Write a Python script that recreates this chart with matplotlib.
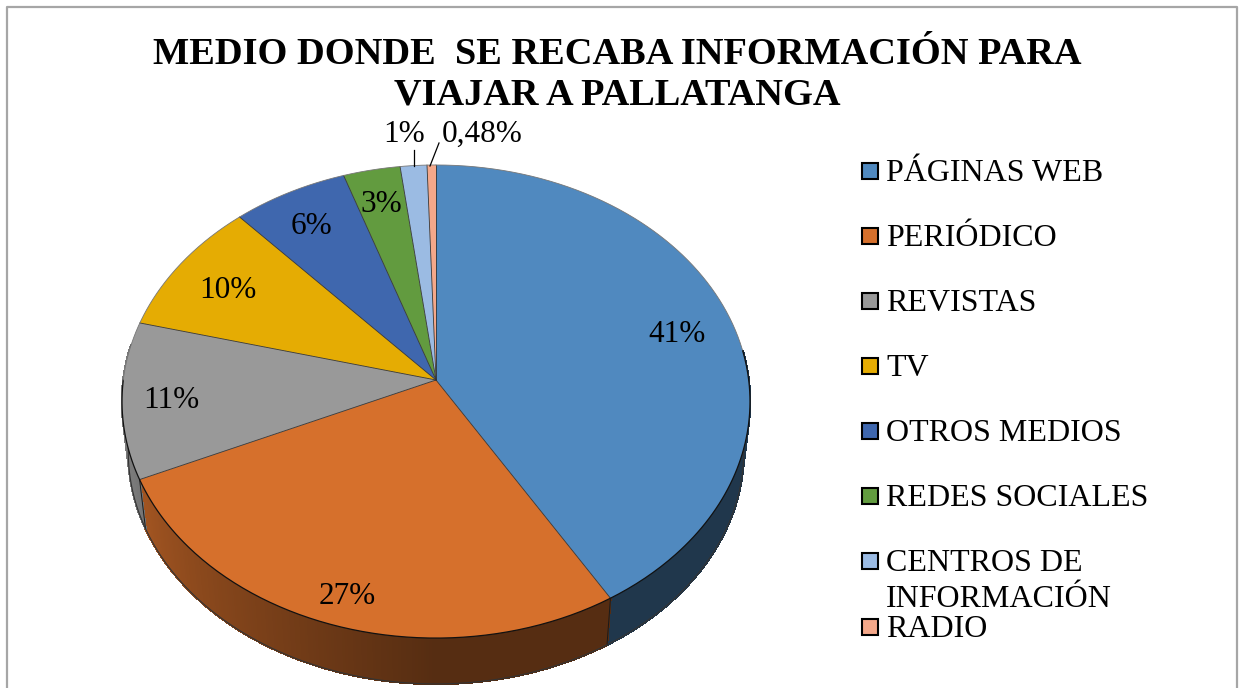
import numpy as np
import matplotlib
matplotlib.use('Agg')
import matplotlib.pyplot as plt
from matplotlib.collections import PolyCollection
from matplotlib.patches import Polygon, Rectangle

plt.rcParams['font.family'] = ['Liberation Serif', 'DejaVu Serif']

title = 'MEDIO DONDE  SE RECABA INFORMACIÓN PARA\nVIAJAR A PALLATANGA'
categories = ['PÁGINAS WEB', 'PERIÓDICO', 'REVISTAS', 'TV', 'OTROS MEDIOS',
              'REDES SOCIALES', 'CENTROS DE\nINFORMACIÓN', 'RADIO']
# slice sizes, labels are the printed (rounded) ones
values = [41.4, 26.9, 10.7, 9.3, 6.5, 3.2, 1.5, 0.5]
labels = ['41%', '27%', '11%', '10%', '6%', '3%', '1%', '0,48%']
colors = ['#5089bf', '#d6702c', '#999999', '#e5ac03', '#3f67ae', '#629b3f', '#9bbbe3', '#f4a88a']

# pie geometry in pixels
cx, cy = 436, 380
a, b, e = 312.7, 234.6, 0.091
wall = 51
shrink = 0.98


def top_xy(t):
    d = 1 + e * np.cos(t)
    return cx + a * np.sin(t) / d, cy - b * np.cos(t) / d


def bottom_xy(t):
    d = 1 + e * np.cos(t)
    return cx + shrink * a * np.sin(t) / d, cy - shrink * b * np.cos(t) / d + wall


def shade(t):
    # walls get lighter going round to the left
    deg = np.degrees(t)
    return np.clip(0.40 + (deg - 180) / 70 * 0.38, 0.40, 0.80)


fig = plt.figure(figsize=(12.4, 6.88), dpi=100)
ax = fig.add_axes([0, 0, 1, 1])
ax.set_xlim(0, 1240)
ax.set_ylim(688, 0)
ax.axis('off')

edges = 2 * np.pi * np.concatenate([[0], np.cumsum(values)]) / np.sum(values)

# side wall, small strips so the shading changes along the rim
for i, color in enumerate(colors):
    ts = np.linspace(edges[i], edges[i + 1], max(2, int((edges[i + 1] - edges[i]) * 120)))
    ts = ts[(ts > np.pi * 0.46) & (ts < np.pi * 1.55)]
    if len(ts) < 2:
        continue
    base = np.array(matplotlib.colors.to_rgb(color))
    polys, cols = [], []
    for t0, t1 in zip(ts[:-1], ts[1:]):
        x0, y0 = top_xy(t0)
        x1, y1 = top_xy(t1)
        x2, y2 = bottom_xy(t1)
        x3, y3 = bottom_xy(t0)
        polys.append([(x0, y0), (x1, y1), (x2, y2), (x3, y3)])
        cols.append(base * shade((t0 + t1) / 2))
    ax.add_collection(PolyCollection(polys, facecolors=cols, edgecolors=cols, linewidths=1.0,
                                     antialiaseds=False, zorder=2))
    xb, yb = bottom_xy(ts)
    ax.plot(xb, yb, color='#333333', lw=0.8, zorder=3)
    x0, y0 = top_xy(ts[-1])
    x1, y1 = bottom_xy(ts[-1])
    ax.plot([x0, x1], [y0, y1], color='#1a1a1a', lw=0.7, zorder=3)

# top face, then radial lines and rim on top of it
for i, color in enumerate(colors):
    ts = np.linspace(edges[i], edges[i + 1], 200)
    xs, ys = top_xy(ts)
    pts = np.column_stack([np.r_[cx, xs], np.r_[cy, ys]])
    ax.add_patch(Polygon(pts, closed=True, facecolor=color, edgecolor='none', zorder=4))
    ax.plot([cx, xs[0]], [cy, ys[0]], color='#333333', lw=0.6, zorder=5)

for start, end, rim_color, rim_lw in [(0, 0.46, '#777777', 0.6), (0.46, 1.5, '#111111', 0.9),
                                      (1.5, 2, '#777777', 0.6)]:
    ts = np.linspace(start * np.pi, end * np.pi, 300)
    xs, ys = top_xy(ts)
    ax.plot(xs, ys, color=rim_color, lw=rim_lw, zorder=5)

# value labels
label_x = [677, 347, 171, 228, 312, 381, 404, 482]
label_y = [334, 596, 400, 290, 227, 205, 134, 134]
for lab, lx, ly in zip(labels, label_x, label_y):
    ax.text(lx, ly, lab, fontsize=22.5, ha='center', va='center', color='black', zorder=6)
ax.plot([414, 414], [150, 166], color='black', lw=0.9, zorder=5)
ax.plot([439, 430], [143, 166], color='black', lw=0.9, zorder=5)

ax.text(617, 75, title, fontsize=27.6, fontweight='bold', ha='center', va='center',
        linespacing=1.2, color='black')

# legend
legend_y = [171, 236, 301, 366, 431, 496, 561, 627]
for cat, color, ly in zip(categories, colors, legend_y):
    ax.add_patch(Rectangle((862, ly - 8), 16, 16, facecolor=color, edgecolor='black', lw=1.5, zorder=5))
    ax.text(886, ly - 12, cat, fontsize=23, ha='left', va='top', linespacing=1.3, color='black')

# outer frame, bottom edge is cropped off
ax.plot([7, 7, 1237, 1237], [688, 7, 7, 688], color='#a6a6a6', lw=1.6, zorder=1)

fig.savefig('out.png', dpi=100, facecolor='white')
